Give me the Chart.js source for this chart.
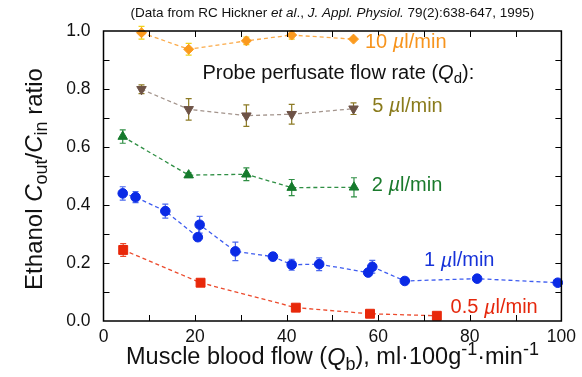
<!DOCTYPE html>
<html lang="en">
<head>
<meta charset="UTF-8">
<title>Ethanol Cout/Cin vs muscle blood flow</title>
<script src="https://cdn.jsdelivr.net/npm/chart.js"></script>
<style>
    html, body { margin: 0; padding: 0; background: #fff; }
    canvas { display: block; }
</style>
</head>
<body>
<canvas id="flowChart" width="582" height="377"></canvas>
<script>
// readings taken off the published figure (x = Qb, y = Cout/Cin, e = error bar half-height)
const x10 = [8.3, 18.6, 31.2, 41.1, 54.6];
const y10 = [0.994, 0.937, 0.966, 0.986, 0.972];
const e10 = [0.022, 0.02, 0.013, 0.014, 0];

const x5 = [8.3, 18.6, 31.2, 41.1, 54.6];
const y5 = [0.799, 0.730, 0.708, 0.713, 0.732];
const e5 = [0.015, 0.037, 0.037, 0.034, 0.02];

const x2 = [4.2, 18.6, 31.2, 41.1, 54.7];
const y2 = [0.636, 0.503, 0.506, 0.46, 0.461];
const e2 = [0.023, 0.008, 0.022, 0.028, 0.033];

const x1 = [4.2, 7.0, 13.5, 20.6, 21.0, 28.8, 37.0, 41.1, 47.1, 57.8, 58.7, 65.8, 81.6, 99.2];
const y1 = [0.44, 0.427, 0.379, 0.289, 0.332, 0.24, 0.222, 0.194, 0.196, 0.167, 0.187, 0.138, 0.146, 0.132];
const e1 = [0.023, 0.019, 0.024, 0.012, 0.029, 0.032, 0.014, 0.019, 0.022, 0.01, 0.022, 0, 0, 0];

const x05 = [4.3, 21.2, 42.0, 58.2, 72.8];
const y05 = [0.245, 0.132, 0.046, 0.025, 0.018];
const e05 = [0.022, 0, 0, 0, 0];

const xTicks = [0, 20, 40, 60, 80, 100];
const yTicks = [0.0, 0.2, 0.4, 0.6, 0.8, 1.0];

const FONT = '"Liberation Sans", Arial, Helvetica, sans-serif';

function pts(xs, ys) {
    return xs.map((x, i) => ({ x: x, y: ys[i] }));
}

function series(label, xs, ys, errs, color, lineColor, errColor, style, radius, rotation) {
    return {
        label: label,
        data: pts(xs, ys),
        errors: errs,
        errColor: errColor,
        showLine: true,
        borderColor: lineColor,
        borderWidth: 1.3,
        borderDash: [4, 3],
        backgroundColor: color,
        pointBackgroundColor: color,
        pointBorderColor: color,
        pointBorderWidth: 1,
        pointStyle: style,
        pointRadius: radius,
        pointRotation: rotation || 0,
        clip: false
    };
}

// draw a run of text pieces: {t, i (italic), sub, sup}
function partFont(p, size) {
    const s = (p.sub || p.sup) ? Math.round(size * 0.75) : size;
    return (p.i ? 'italic ' : '') + s + 'px ' + FONT;
}
function richWidth(ctx, parts, size) {
    let w = 0;
    parts.forEach(p => { ctx.font = partFont(p, size); w += ctx.measureText(p.t).width; });
    return w;
}
function richText(ctx, parts, x, y, size, color, align) {
    let cx = x;
    if (align === 'center') cx = x - richWidth(ctx, parts, size) / 2;
    ctx.fillStyle = color;
    ctx.textBaseline = 'middle';
    ctx.textAlign = 'left';
    parts.forEach(p => {
        ctx.font = partFont(p, size);
        let dy = 0;
        if (p.sub) dy = size * 0.3;
        if (p.sup) dy = -size * 0.32;
        ctx.fillText(p.t, cx, y + dy);
        cx += ctx.measureText(p.t).width;
    });
}

const notes = [
    { x: 57.1, y: 0.959, color: '#f7941d', parts: [{ t: '10 ' }, { t: 'µ', i: true }, { t: 'l/min' }] },
    { x: 21.6, y: 0.855, color: '#111111', parts: [{ t: 'Probe perfusate flow rate (' }, { t: 'Q', i: true }, { t: 'd', sub: true }, { t: '):' }] },
    { x: 58.7, y: 0.741, color: '#8a7b1c', parts: [{ t: '5 ' }, { t: 'µ', i: true }, { t: 'l/min' }] },
    { x: 58.6, y: 0.466, color: '#1a7a2c', parts: [{ t: '2 ' }, { t: 'µ', i: true }, { t: 'l/min' }] },
    { x: 70.0, y: 0.207, color: '#1733d9', parts: [{ t: '1 ' }, { t: 'µ', i: true }, { t: 'l/min' }] },
    { x: 75.8, y: 0.045, color: '#e5270c', parts: [{ t: '0.5 ' }, { t: 'µ', i: true }, { t: 'l/min' }] }
];

const errorBars = {
    id: 'errorBars',
    beforeDatasetsDraw(chart) {
        const ctx = chart.ctx, xs = chart.scales.x, ys = chart.scales.y;
        ctx.save();
        chart.data.datasets.forEach(ds => {
            ctx.strokeStyle = ds.errColor;
            ctx.lineWidth = 1.2;
            ds.data.forEach((p, i) => {
                const e = ds.errors[i];
                if (!e) return;
                const px = xs.getPixelForValue(p.x);
                const top = ys.getPixelForValue(p.y + e);
                const bot = ys.getPixelForValue(p.y - e);
                ctx.beginPath();
                ctx.moveTo(px, top); ctx.lineTo(px, bot);
                ctx.moveTo(px - 3, top); ctx.lineTo(px + 3, top);
                ctx.moveTo(px - 3, bot); ctx.lineTo(px + 3, bot);
                ctx.stroke();
            });
        });
        ctx.restore();
    }
};

const frame = {
    id: 'frame',
    afterDraw(chart) {
        const ctx = chart.ctx, a = chart.chartArea, xs = chart.scales.x, ys = chart.scales.y;
        ctx.save();
        ctx.strokeStyle = '#000';
        ctx.lineWidth = 1.5;
        ctx.strokeRect(a.left, a.top, a.right - a.left, a.bottom - a.top);
        ctx.lineWidth = 1;
        ctx.beginPath();
        for (let v = 10; v < 100; v += 10) {
            const px = Math.round(xs.getPixelForValue(v)) + 0.5;
            ctx.moveTo(px, a.bottom); ctx.lineTo(px, a.bottom - 6);
            ctx.moveTo(px, a.top); ctx.lineTo(px, a.top + 6);
        }
        for (let k = 1; k < 10; k++) {
            const py = Math.round(ys.getPixelForValue(k / 10)) + 0.5;
            ctx.moveTo(a.left, py); ctx.lineTo(a.left + 6, py);
            ctx.moveTo(a.right, py); ctx.lineTo(a.right - 6, py);
        }
        ctx.stroke();

        // titles
        richText(ctx, [{ t: '(Data from RC Hickner ' }, { t: 'et al', i: true }, { t: '., ' },
            { t: 'J. Appl. Physiol.', i: true }, { t: ' 79(2):638-647, 1995)' }],
            (a.left + a.right) / 2, 13, 13.5, '#111', 'center');
        richText(ctx, [{ t: 'Muscle blood flow (' }, { t: 'Q', i: true }, { t: 'b', sub: true },
            { t: '), ml·100g' }, { t: '-1', sup: true }, { t: '·min' }, { t: '-1', sup: true }],
            (a.left + a.right) / 2, 358, 23.5, '#111', 'center');
        ctx.save();
        ctx.translate(35, 179);
        ctx.rotate(-Math.PI / 2);
        richText(ctx, [{ t: 'Ethanol ' }, { t: 'C', i: true }, { t: 'out', sub: true }, { t: '/' },
            { t: 'C', i: true }, { t: 'in', sub: true }, { t: ' ratio' }], 0, 0, 24, '#111', 'center');
        ctx.restore();

        notes.forEach(n => {
            richText(ctx, n.parts, xs.getPixelForValue(n.x), ys.getPixelForValue(n.y), 20, n.color, 'left');
        });
        ctx.restore();
    }
};

new Chart(document.getElementById('flowChart').getContext('2d'), {
    type: 'scatter',
    data: {
        datasets: [
            series('10 µl/min', x10, y10, e10, '#fb9a1e', '#fbab4a', '#f0d21a', 'rectRot', 5),
            series('5 µl/min', x5, y5, e5, '#6e5347', '#a3948c', '#8c7a24', 'triangle', 5.5, 180),
            series('2 µl/min', x2, y2, e2, '#157a2c', '#2f8f44', '#2f8f44', 'triangle', 5.5),
            series('1 µl/min', x1, y1, e1, '#0a2ae6', '#3e5cf0', '#4a68ee', 'circle', 4.8),
            series('0.5 µl/min', x05, y05, e05, '#e8280a', '#ec4a2c', '#ec4a2c', 'rect', 6.3)
        ]
    },
    options: {
        responsive: false,
        animation: false,
        layout: { padding: { left: 0, top: 31, right: 19, bottom: 0 } },
        plugins: {
            legend: { display: false },
            tooltip: { enabled: false }
        },
        scales: {
            x: {
                type: 'linear',
                min: 0,
                max: 100,
                afterFit: s => { s.height = 56; },
                afterBuildTicks: s => { s.ticks = xTicks.map(v => ({ value: v })); },
                grid: { display: false, drawTicks: false },
                border: { display: false },
                ticks: {
                    padding: 6,
                    color: '#111',
                    font: { family: FONT, size: 17.5 },
                    callback: v => String(v)
                }
            },
            y: {
                type: 'linear',
                min: 0,
                max: 1,
                afterFit: s => { s.width = 103.5; },
                afterBuildTicks: s => { s.ticks = yTicks.map(v => ({ value: v })); },
                grid: { display: false, drawTicks: false },
                border: { display: false },
                ticks: {
                    padding: 13,
                    color: '#111',
                    font: { family: FONT, size: 17.5 },
                    callback: v => Number(v).toFixed(1)
                }
            }
        }
    },
    plugins: [errorBars, frame]
});
</script>
</body>
</html>
